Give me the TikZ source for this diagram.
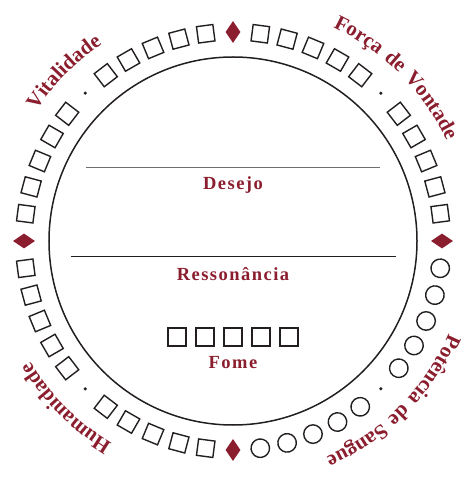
\documentclass[tikz,border=0pt]{standalone}
\usepackage{fontspec}
\setmainfont{Liberation Serif}
\newfontfamily\labelfont[LetterSpace=8]{Liberation Serif}
\newfontfamily\ringfont[LetterSpace=10]{Liberation Serif}
\usepackage{tikz}
\usetikzlibrary{shapes.geometric,decorations.text}
\definecolor{bloodred}{RGB}{139,30,46}
\definecolor{inkgray}{RGB}{35,31,32}
\definecolor{rulegray}{RGB}{110,110,110}

\begin{document}
\begin{tikzpicture}[x=1pt,y=1pt,
		ringbox/.style = {draw=inkgray, line width=1.4pt, minimum size=16.5pt, inner sep=0pt},
		ringcirc/.style = {circle, draw=inkgray, line width=1.4pt, minimum size=18.5pt, inner sep=0pt},
		ringdot/.style = {circle, fill=inkgray, minimum size=3.5pt, inner sep=0pt},
		gem/.style = {diamond, fill=bloodred, minimum width=22pt, minimum height=15pt, inner sep=0pt},
		hungerbox/.style = {draw=inkgray, line width=1.6pt, minimum size=18pt, inner sep=0pt},
		stat/.style = {font=\labelfont\bfseries\fontsize{18.5}{21}\selectfont, text=bloodred, anchor=base, inner sep=0pt},
		ringtext/.style = {decorate, decoration={text along path, text align=center, text color=bloodred,
			text={|\ringfont\bfseries\fontsize{21}{24}\selectfont|#1}}}
		]
		\useasboundingbox (-233,-237) rectangle (232,241);
		\node (disc) [circle, draw=inkgray, line width=1.5pt, minimum size=368pt, inner sep=0pt] at (0,0) {};
		\foreach \q/\shp in {0/ringbox, 90/ringbox, 180/ringbox, 270/ringcirc} {
			\node (gem\q) [gem, rotate=\q] at (\q:209) {};
			\node (dot\q) [ringdot] at (\q+45:209) {};
			\foreach \k in {1,2,3,4,5,7,8,9,10,11}
			\node (slot\q-\k) [\shp, rotate=\q+7.5*\k] at (\q+7.5*\k:209) {};
		}
		\draw[rulegray, line width=1pt] (-147,73) -- (147,73);
		\draw[inkgray, line width=1pt] (-162,-16) -- (163,-16);
		\node (desejo) [stat] at (0,51) {Desejo};
		\node (resson) [stat] at (0,-40) {Ressonância};
		\foreach \i in {-2,...,2}
		\node (hunger\i) [hungerbox] at (28*\i,-96) {};
		\node (fome) [stat] at (0,-127) {Fome};
		\path[ringtext={Vitalidade}] (175:236) arc[start angle=175, end angle=95, radius=236];
		\path[ringtext={Força de Vontade}] (85:236) arc[start angle=85, end angle=5, radius=236];
		\path[ringtext={Potência de Sangue}] (-5:235) arc[start angle=-5, end angle=-85, radius=235];
		\path[ringtext={Humanidade}] (265:236) arc[start angle=265, end angle=185, radius=236];
	\end{tikzpicture}
\end{document}
